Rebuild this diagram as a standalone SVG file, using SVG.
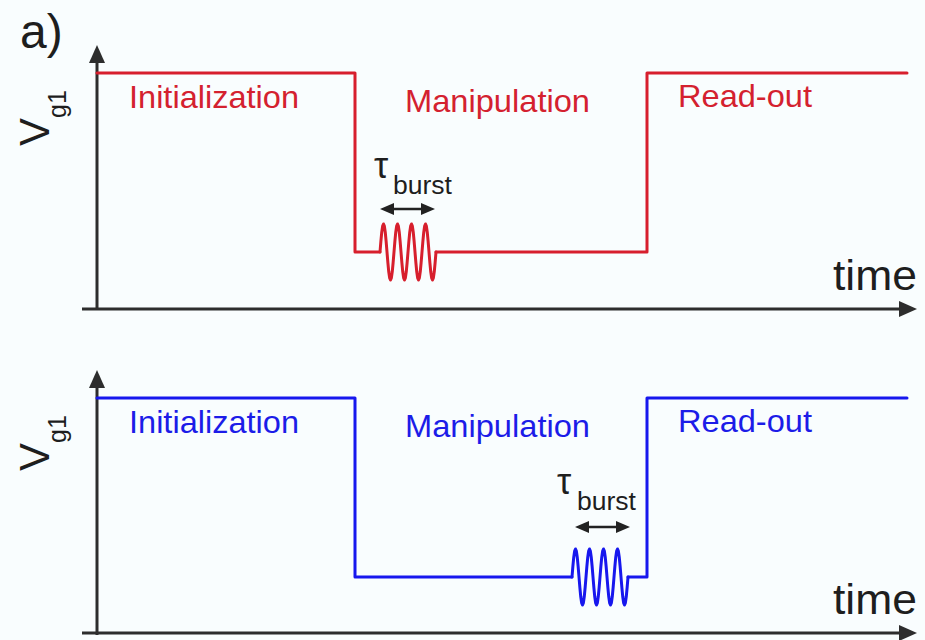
<svg xmlns="http://www.w3.org/2000/svg" xmlns:xlink="http://www.w3.org/1999/xlink" width="925" height="640" viewBox="0 0 925 640">
<style>
text{font-family:"Liberation Sans",Arial,Helvetica,sans-serif}
.ax{stroke:#2d2d2d;stroke-width:3;fill:none;marker-end:url(#ah)}
.dbl{stroke:#222;stroke-width:2.5;fill:none;marker-start:url(#sa);marker-end:url(#sa)}
.sig{fill:none;stroke-width:3;stroke-linejoin:round;stroke-linecap:round}
.red{stroke:#d71f2d}
.blue{stroke:#1717ee}
.tred{fill:#d4212f;font-size:32px}
.tblue{fill:#1c1ce8;font-size:32px}
.blk{fill:#1e1e1e}
</style>
<defs>
<marker id="ah" markerUnits="userSpaceOnUse" markerWidth="18" markerHeight="16" refX="8" refY="8" orient="auto"><path d="M0,0 L18,8 L0,16 z" fill="#2d2d2d"/></marker>
<marker id="sa" markerUnits="userSpaceOnUse" markerWidth="14" markerHeight="12" refX="7" refY="6" orient="auto-start-reverse"><path d="M0,0 L14,6 L0,12 z" fill="#222"/></marker>
<path id="wave" d="M0,0 l.875,-10.72 .875,-9.08 .875,-6.07 .875,-2.13 .875,2.13 .875,6.07 .875,9.08 .875,10.72 .875,10.72 .875,9.08 .875,6.07 .875,2.13 .875,-2.13 .875,-6.07 .875,-9.08 .875,-10.72 l.875,-10.72 .875,-9.08 .875,-6.07 .875,-2.13 .875,2.13 .875,6.07 .875,9.08 .875,10.72 .875,10.72 .875,9.08 .875,6.07 .875,2.13 .875,-2.13 .875,-6.07 .875,-9.08 .875,-10.72 l.875,-10.72 .875,-9.08 .875,-6.07 .875,-2.13 .875,2.13 .875,6.07 .875,9.08 .875,10.72 .875,10.72 .875,9.08 .875,6.07 .875,2.13 .875,-2.13 .875,-6.07 .875,-9.08 .875,-10.72 l.875,-10.72 .875,-9.08 .875,-6.07 .875,-2.13 .875,2.13 .875,6.07 .875,9.08 .875,10.72 .875,10.72 .875,9.08 .875,6.07 .875,2.13 .875,-2.13 .875,-6.07 .875,-9.08 .875,-10.72"/>
</defs>
<rect width="925" height="640" fill="#f9fdfe"/>
<text x="20" y="48" font-size="48" class="blk">a)</text>

<g id="panel-top">
  <g id="axes-top">
    <line class="ax" x1="97" y1="310" x2="97" y2="55"/>
    <line class="ax" x1="82" y1="309" x2="907" y2="309"/>
  </g>
  <g id="signal-top">
    <path class="sig red" d="M97,73 H355 V252 H380 M436,252 H647 V73 H907"/>
    <use xlink:href="#wave" href="#wave" class="sig red" transform="translate(380,252)"/>
    <line class="dbl" x1="387" y1="209" x2="428" y2="209"/>
  </g>
  <g id="labels-top">
    <text class="blk" transform="translate(49,146) rotate(-90)" font-size="42">V<tspan font-size="25" dy="17">g1</tspan></text>
    <text class="tred" x="129" y="108" textLength="170" lengthAdjust="spacingAndGlyphs">Initialization</text>
    <text class="tred" x="405" y="112" textLength="185" lengthAdjust="spacingAndGlyphs">Manipulation</text>
    <text class="tred" x="678" y="107" textLength="134" lengthAdjust="spacingAndGlyphs">Read-out</text>
    <text class="blk" x="833" y="290" font-size="42" textLength="84" lengthAdjust="spacingAndGlyphs">time</text>
    <text class="blk" x="374" y="178" font-size="36">τ</text>
    <text class="blk" x="393" y="194" font-size="26" textLength="59" lengthAdjust="spacingAndGlyphs">burst</text>
  </g>
</g>

<g id="panel-bottom">
  <g id="axes-bottom">
    <line class="ax" x1="97" y1="635" x2="97" y2="380"/>
    <line class="ax" x1="82" y1="633" x2="907" y2="633"/>
  </g>
  <g id="signal-bottom">
    <path class="sig blue" d="M97,398 H355 V577 H572 M628,577 H647 V398 H907"/>
    <use xlink:href="#wave" href="#wave" class="sig blue" transform="translate(572,577)"/>
    <line class="dbl" x1="582" y1="527" x2="623" y2="527"/>
  </g>
  <g id="labels-bottom">
    <text class="blk" transform="translate(49,471) rotate(-90)" font-size="42">V<tspan font-size="25" dy="17">g1</tspan></text>
    <text class="tblue" x="129" y="433" textLength="170" lengthAdjust="spacingAndGlyphs">Initialization</text>
    <text class="tblue" x="405" y="437" textLength="185" lengthAdjust="spacingAndGlyphs">Manipulation</text>
    <text class="tblue" x="678" y="432" textLength="134" lengthAdjust="spacingAndGlyphs">Read-out</text>
    <text class="blk" x="833" y="614" font-size="42" textLength="84" lengthAdjust="spacingAndGlyphs">time</text>
    <text class="blk" x="557" y="494" font-size="36">τ</text>
    <text class="blk" x="577" y="510" font-size="26" textLength="59" lengthAdjust="spacingAndGlyphs">burst</text>
  </g>
</g>
</svg>
